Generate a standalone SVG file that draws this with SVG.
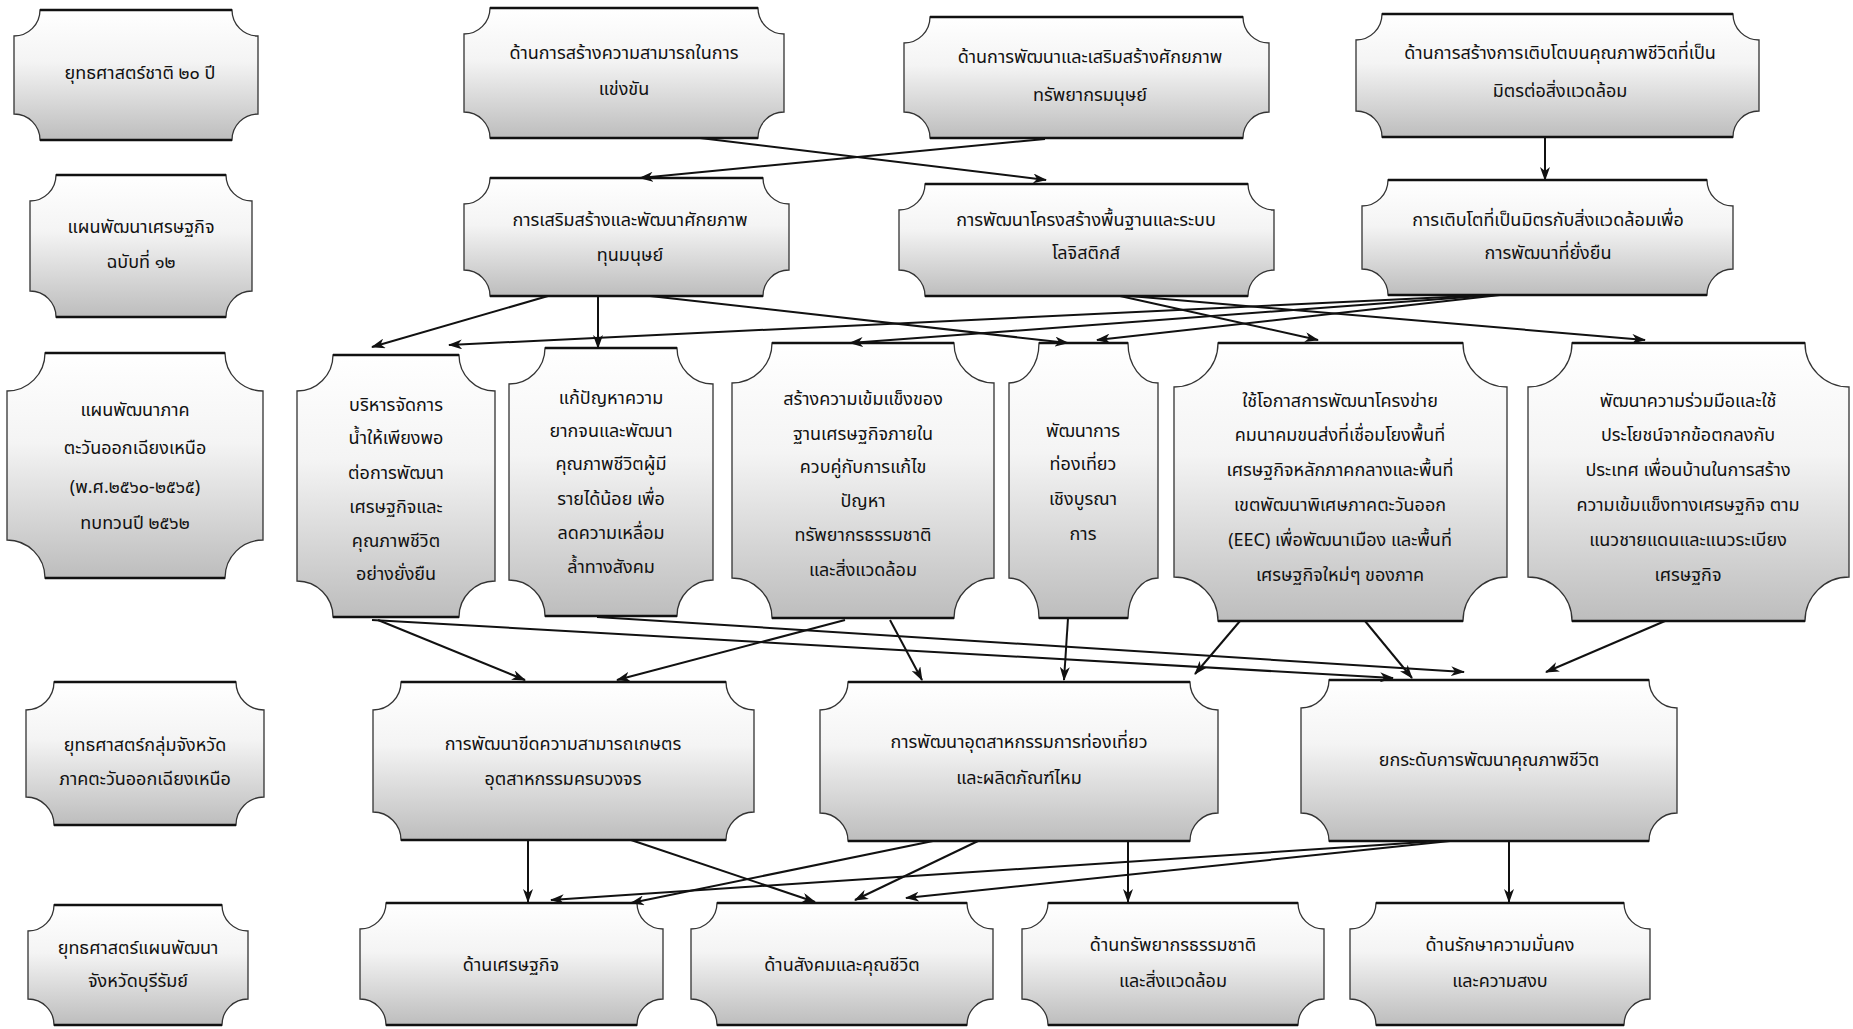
<svg xmlns="http://www.w3.org/2000/svg" width="1853" height="1029" viewBox="0 0 1853 1029">
<defs>
<linearGradient id="g" x1="0" y1="0" x2="0" y2="1">
<stop offset="0" stop-color="#ffffff"/>
<stop offset="0.4" stop-color="#f4f4f4"/>
<stop offset="1" stop-color="#bdbdbd"/>
</linearGradient>
<marker id="ah" viewBox="0 0 14 10" refX="13" refY="5" markerWidth="14" markerHeight="10" markerUnits="userSpaceOnUse" orient="auto">
<path d="M0,0 L14,5 L0,10 L4,5 Z" fill="#111"/>
</marker>
</defs>
<style>
.n{fill:url(#g);stroke:#333;stroke-width:1.3}
.e{stroke:#111;stroke-width:2.6}
.t{font-family:"Noto Sans Thai","Tahoma","DejaVu Sans",sans-serif;font-size:18px;fill:#111;text-anchor:middle}
.c path{fill:none;stroke:#111;stroke-width:2;marker-end:url(#ah)}
</style>
<rect width="1853" height="1029" fill="#fff"/>

<g id="A1"><path class="n" d="M40,10 H232 A26,26 0 0 0 258,36 V114 A26,26 0 0 0 232,140 H40 A26,26 0 0 0 14,114 V36 A26,26 0 0 0 40,10 Z"/><path class="e" d="M40,10 H232 M40,140 H232"/><text class="t" x="140" y="79">ยุทธศาสตร์ชาติ ๒๐ ปี</text></g>
<g id="B1"><path class="n" d="M490,8 H758 A26,26 0 0 0 784,34 V112 A26,26 0 0 0 758,138 H490 A26,26 0 0 0 464,112 V34 A26,26 0 0 0 490,8 Z"/><path class="e" d="M490,8 H758 M490,138 H758"/><text class="t" x="624" y="59">ด้านการสร้างความสามารถในการ</text><text class="t" x="624" y="95">แข่งขัน</text></g>
<g id="C1"><path class="n" d="M930,17 H1243 A26,26 0 0 0 1269,43 V112 A26,26 0 0 0 1243,138 H930 A26,26 0 0 0 904,112 V43 A26,26 0 0 0 930,17 Z"/><path class="e" d="M930,17 H1243 M930,138 H1243"/><text class="t" x="1090" y="63">ด้านการพัฒนาและเสริมสร้างศักยภาพ</text><text class="t" x="1090" y="101">ทรัพยากรมนุษย์</text></g>
<g id="D1"><path class="n" d="M1382,14 H1733 A26,26 0 0 0 1759,40 V111 A26,26 0 0 0 1733,137 H1382 A26,26 0 0 0 1356,111 V40 A26,26 0 0 0 1382,14 Z"/><path class="e" d="M1382,14 H1733 M1382,137 H1733"/><text class="t" x="1560" y="59">ด้านการสร้างการเติบโตบนคุณภาพชีวิตที่เป็น</text><text class="t" x="1560" y="97">มิตรต่อสิ่งแวดล้อม</text></g>

<g id="A2"><path class="n" d="M56,175 H226 A26,26 0 0 0 252,201 V291 A26,26 0 0 0 226,317 H56 A26,26 0 0 0 30,291 V201 A26,26 0 0 0 56,175 Z"/><path class="e" d="M56,175 H226 M56,317 H226"/><text class="t" x="141" y="233">แผนพัฒนาเศรษฐกิจ</text><text class="t" x="141" y="268">ฉบับที่ ๑๒</text></g>
<g id="B2"><path class="n" d="M490,178 H763 A26,26 0 0 0 789,204 V270 A26,26 0 0 0 763,296 H490 A26,26 0 0 0 464,270 V204 A26,26 0 0 0 490,178 Z"/><path class="e" d="M490,178 H763 M490,296 H763"/><text class="t" x="630" y="226">การเสริมสร้างและพัฒนาศักยภาพ</text><text class="t" x="630" y="261">ทุนมนุษย์</text></g>
<g id="C2"><path class="n" d="M925,184 H1248 A26,26 0 0 0 1274,210 V270 A26,26 0 0 0 1248,296 H925 A26,26 0 0 0 899,270 V210 A26,26 0 0 0 925,184 Z"/><path class="e" d="M925,184 H1248 M925,296 H1248"/><text class="t" x="1086" y="226">การพัฒนาโครงสร้างพื้นฐานและระบบ</text><text class="t" x="1086" y="259">โลจิสติกส์</text></g>
<g id="D2"><path class="n" d="M1388,180 H1707 A26,26 0 0 0 1733,206 V269 A26,26 0 0 0 1707,295 H1388 A26,26 0 0 0 1362,269 V206 A26,26 0 0 0 1388,180 Z"/><path class="e" d="M1388,180 H1707 M1388,295 H1707"/><text class="t" x="1548" y="226">การเติบโตที่เป็นมิตรกับสิ่งแวดล้อมเพื่อ</text><text class="t" x="1548" y="259">การพัฒนาที่ยั่งยืน</text></g>

<g id="A3"><path class="n" d="M45,353 H225 A38,38 0 0 0 263,391 V540 A38,38 0 0 0 225,578 H45 A38,38 0 0 0 7,540 V391 A38,38 0 0 0 45,353 Z"/><path class="e" d="M45,353 H225 M45,578 H225"/><text class="t" x="135" y="416">แผนพัฒนาภาค</text><text class="t" x="135" y="454">ตะวันออกเฉียงเหนือ</text><text class="t" x="135" y="493">(พ.ศ.๒๕๖๐-๒๕๖๕)</text><text class="t" x="135" y="529">ทบทวนปี ๒๕๖๒</text></g>
<g id="B3"><path class="n" d="M333,355 H459 A36,36 0 0 0 495,391 V581 A36,36 0 0 0 459,617 H333 A36,36 0 0 0 297,581 V391 A36,36 0 0 0 333,355 Z"/><path class="e" d="M333,355 H459 M333,617 H459"/><text class="t" x="396" y="411">บริหารจัดการ</text><text class="t" x="396" y="444">น้ำให้เพียงพอ</text><text class="t" x="396" y="479">ต่อการพัฒนา</text><text class="t" x="396" y="513">เศรษฐกิจและ</text><text class="t" x="396" y="547">คุณภาพชีวิต</text><text class="t" x="396" y="580">อย่างยั่งยืน</text></g>
<g id="C3"><path class="n" d="M545,348 H677 A36,36 0 0 0 713,384 V580 A36,36 0 0 0 677,616 H545 A36,36 0 0 0 509,580 V384 A36,36 0 0 0 545,348 Z"/><path class="e" d="M545,348 H677 M545,616 H677"/><text class="t" x="611" y="404">แก้ปัญหาความ</text><text class="t" x="611" y="437">ยากจนและพัฒนา</text><text class="t" x="611" y="470">คุณภาพชีวิตผู้มี</text><text class="t" x="611" y="505">รายได้น้อย เพื่อ</text><text class="t" x="611" y="539">ลดความเหลื่อม</text><text class="t" x="611" y="573">ล้ำทางสังคม</text></g>
<g id="D3"><path class="n" d="M772,343 H954 A40,40 0 0 0 994,383 V578 A40,40 0 0 0 954,618 H772 A40,40 0 0 0 732,578 V383 A40,40 0 0 0 772,343 Z"/><path class="e" d="M772,343 H954 M772,618 H954"/><text class="t" x="863" y="405">สร้างความเข้มแข็งของ</text><text class="t" x="863" y="440">ฐานเศรษฐกิจภายใน</text><text class="t" x="863" y="473">ควบคู่กับการแก้ไข</text><text class="t" x="863" y="507">ปัญหา</text><text class="t" x="863" y="541">ทรัพยากรธรรมชาติ</text><text class="t" x="863" y="576">และสิ่งแวดล้อม</text></g>
<g id="E3"><path class="n" d="M1039,343 H1128 A30,40 0 0 0 1158,383 V578 A30,40 0 0 0 1128,618 H1039 A30,40 0 0 0 1009,578 V383 A30,40 0 0 0 1039,343 Z"/><path class="e" d="M1039,343 H1128 M1039,618 H1128"/><text class="t" x="1083" y="437">พัฒนาการ</text><text class="t" x="1083" y="470">ท่องเที่ยว</text><text class="t" x="1083" y="505">เชิงบูรณา</text><text class="t" x="1083" y="540">การ</text></g>
<g id="F3"><path class="n" d="M1218,343 H1463 A44,44 0 0 0 1507,387 V577 A44,44 0 0 0 1463,621 H1218 A44,44 0 0 0 1174,577 V387 A44,44 0 0 0 1218,343 Z"/><path class="e" d="M1218,343 H1463 M1218,621 H1463"/><text class="t" x="1340" y="407">ใช้โอกาสการพัฒนาโครงข่าย</text><text class="t" x="1340" y="441">คมนาคมขนส่งที่เชื่อมโยงพื้นที่</text><text class="t" x="1340" y="476">เศรษฐกิจหลักภาคกลางและพื้นที่</text><text class="t" x="1340" y="511">เขตพัฒนาพิเศษภาคตะวันออก</text><text class="t" x="1340" y="546">(EEC) เพื่อพัฒนาเมือง และพื้นที่</text><text class="t" x="1340" y="581">เศรษฐกิจใหม่ๆ ของภาค</text></g>
<g id="G3"><path class="n" d="M1572,343 H1805 A44,44 0 0 0 1849,387 V577 A44,44 0 0 0 1805,621 H1572 A44,44 0 0 0 1528,577 V387 A44,44 0 0 0 1572,343 Z"/><path class="e" d="M1572,343 H1805 M1572,621 H1805"/><text class="t" x="1688" y="407">พัฒนาความร่วมมือและใช้</text><text class="t" x="1688" y="441">ประโยชน์จากข้อตกลงกับ</text><text class="t" x="1688" y="476">ประเทศ เพื่อนบ้านในการสร้าง</text><text class="t" x="1688" y="511">ความเข้มแข็งทางเศรษฐกิจ ตาม</text><text class="t" x="1688" y="546">แนวชายแดนและแนวระเบียง</text><text class="t" x="1688" y="581">เศรษฐกิจ</text></g>

<g id="A4"><path class="n" d="M54,682 H236 A28,28 0 0 0 264,710 V797 A28,28 0 0 0 236,825 H54 A28,28 0 0 0 26,797 V710 A28,28 0 0 0 54,682 Z"/><path class="e" d="M54,682 H236 M54,825 H236"/><text class="t" x="145" y="751">ยุทธศาสตร์กลุ่มจังหวัด</text><text class="t" x="145" y="785">ภาคตะวันออกเฉียงเหนือ</text></g>
<g id="B4"><path class="n" d="M401,682 H726 A28,28 0 0 0 754,710 V812 A28,28 0 0 0 726,840 H401 A28,28 0 0 0 373,812 V710 A28,28 0 0 0 401,682 Z"/><path class="e" d="M401,682 H726 M401,840 H726"/><text class="t" x="563" y="750">การพัฒนาขีดความสามารถเกษตร</text><text class="t" x="563" y="785">อุตสาหกรรมครบวงจร</text></g>
<g id="C4"><path class="n" d="M848,682 H1190 A28,28 0 0 0 1218,710 V813 A28,28 0 0 0 1190,841 H848 A28,28 0 0 0 820,813 V710 A28,28 0 0 0 848,682 Z"/><path class="e" d="M848,682 H1190 M848,841 H1190"/><text class="t" x="1019" y="748">การพัฒนาอุตสาหกรรมการท่องเที่ยว</text><text class="t" x="1019" y="784">และผลิตภัณฑ์ไหม</text></g>
<g id="D4"><path class="n" d="M1329,680 H1649 A28,28 0 0 0 1677,708 V813 A28,28 0 0 0 1649,841 H1329 A28,28 0 0 0 1301,813 V708 A28,28 0 0 0 1329,680 Z"/><path class="e" d="M1329,680 H1649 M1329,841 H1649"/><text class="t" x="1489" y="766">ยกระดับการพัฒนาคุณภาพชีวิต</text></g>

<g id="A5"><path class="n" d="M54,905 H222 A26,26 0 0 0 248,931 V999 A26,26 0 0 0 222,1025 H54 A26,26 0 0 0 28,999 V931 A26,26 0 0 0 54,905 Z"/><path class="e" d="M54,905 H222 M54,1025 H222"/><text class="t" x="138" y="954">ยุทธศาสตร์แผนพัฒนา</text><text class="t" x="138" y="987">จังหวัดบุรีรัมย์</text></g>
<g id="B5"><path class="n" d="M386,903 H637 A26,26 0 0 0 663,929 V999 A26,26 0 0 0 637,1025 H386 A26,26 0 0 0 360,999 V929 A26,26 0 0 0 386,903 Z"/><path class="e" d="M386,903 H637 M386,1025 H637"/><text class="t" x="511" y="971">ด้านเศรษฐกิจ</text></g>
<g id="C5"><path class="n" d="M717,903 H967 A26,26 0 0 0 993,929 V999 A26,26 0 0 0 967,1025 H717 A26,26 0 0 0 691,999 V929 A26,26 0 0 0 717,903 Z"/><path class="e" d="M717,903 H967 M717,1025 H967"/><text class="t" x="842" y="971">ด้านสังคมและคุณชีวิต</text></g>
<g id="D5"><path class="n" d="M1048,903 H1298 A26,26 0 0 0 1324,929 V999 A26,26 0 0 0 1298,1025 H1048 A26,26 0 0 0 1022,999 V929 A26,26 0 0 0 1048,903 Z"/><path class="e" d="M1048,903 H1298 M1048,1025 H1298"/><text class="t" x="1173" y="951">ด้านทรัพยากรธรรมชาติ</text><text class="t" x="1173" y="987">และสิ่งแวดล้อม</text></g>
<g id="E5"><path class="n" d="M1376,903 H1624 A26,26 0 0 0 1650,929 V999 A26,26 0 0 0 1624,1025 H1376 A26,26 0 0 0 1350,999 V929 A26,26 0 0 0 1376,903 Z"/><path class="e" d="M1376,903 H1624 M1376,1025 H1624"/><text class="t" x="1500" y="951">ด้านรักษาความมั่นคง</text><text class="t" x="1500" y="987">และความสงบ</text></g>

<g id="connectors" class="c">
<path d="M700,138 L1046,180"/>
<path d="M1045,139 L640,178"/>
<path d="M1545,137 L1545,180"/>
<path d="M548,296 L372,347"/>
<path d="M598,296 L598,348"/>
<path d="M650,296 L1068,343"/>
<path d="M1490,295 L449,345"/>
<path d="M1495,295 L850,343"/>
<path d="M1500,295 L1097,340"/>
<path d="M1120,296 L1318,340"/>
<path d="M1130,296 L1645,340"/>
<path d="M378,620 L525,680"/>
<path d="M372,620 L1393,678"/>
<path d="M597,617 L1464,672"/>
<path d="M845,620 L617,680"/>
<path d="M890,620 L922,680"/>
<path d="M1068,618 L1064,680"/>
<path d="M1240,621 L1195,674"/>
<path d="M1365,621 L1412,678"/>
<path d="M1665,621 L1546,672"/>
<path d="M528,840 L528,902"/>
<path d="M631,840 L815,902"/>
<path d="M933,841 L631,903"/>
<path d="M978,841 L855,900"/>
<path d="M1128,841 L1128,902"/>
<path d="M1440,841 L551,900"/>
<path d="M1450,841 L906,898"/>
<path d="M1509,841 L1509,902"/>
</g>
</svg>
